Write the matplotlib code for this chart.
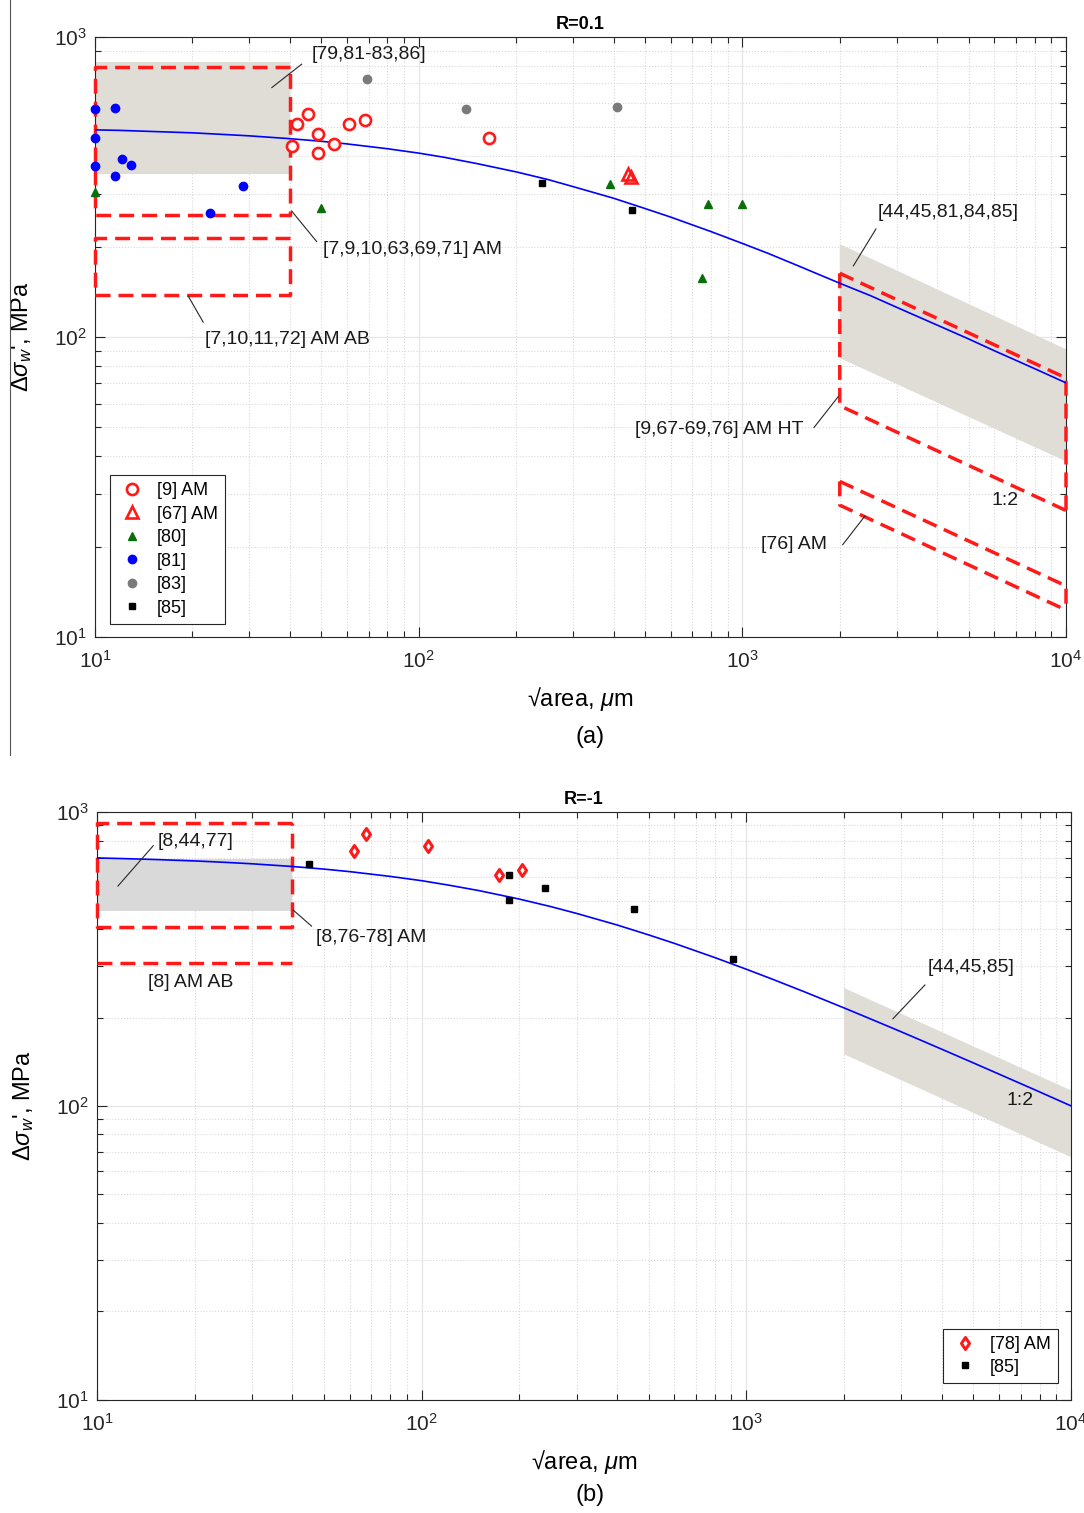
import matplotlib
matplotlib.use("Agg")
import matplotlib.pyplot as plt
from matplotlib.lines import Line2D
from matplotlib.markers import MarkerStyle
from matplotlib.patches import Polygon

plt.rcParams['font.family'] = ['Liberation Sans', 'DejaVu Sans']
plt.rcParams['mathtext.fontset'] = 'custom'
plt.rcParams['mathtext.rm'] = 'Liberation Sans'
plt.rcParams['mathtext.it'] = 'Liberation Sans:italic'

# ---------------- data, panel (a) R=0.1 ----------------
curve_x = [10, 12, 15, 20, 25, 30, 40, 50, 60, 80, 100, 120, 150, 200, 250, 300, 400, 500,
           600, 800, 1000, 1200, 1500, 2000, 2500, 3000, 4000, 5000, 6000, 8000, 10000]
curve_a_y = [490, 488, 484, 479, 473, 468, 458, 449, 440, 424, 410, 397, 379, 355, 335, 317, 290, 268,
             251, 224.5, 205, 190, 172, 151, 137, 125.5, 109.5, 98.5, 90, 78.4, 70.3]

ref9_x = [40.5, 42.2, 45.6, 48.8, 48.8, 54.7, 61.0, 68.4, 164.9]
ref9_y = [433, 512, 555, 476, 411, 438, 512, 529, 462]
ref67_x = [442, 452]
ref67_y = [349, 341]
ref80_x = [10, 50, 390, 783, 997, 750]
ref80_y = [304, 268, 323, 277, 277, 157]
ref81_x = [10, 11.5, 10, 10, 12.1, 12.9, 11.5, 28.7, 22.7]
ref81_y = [574, 581, 461, 372, 393, 375, 345, 318, 258]
ref83_x = [69.1, 139.7, 409]
ref83_y = [726, 574, 584]
ref85a_x = [240, 455]
ref85a_y = [325, 265]

# ---------------- data, panel (b) R=-1 ----------------
curve_b_y = [698, 694.5, 689.6, 681.8, 674, 666.7, 652.7, 639.5, 627, 604, 584, 565, 540.5, 505.6, 476.7,
             452, 412.8, 382, 357.5, 319.8, 291.9, 270.3, 245.3, 215.6, 194.6, 178.8, 156, 140.2, 128.4,
             111.7, 100.1]

ref78_x = [61.9, 67.2, 104.4, 173.4, 204]
ref78_y = [737, 839, 764, 610, 635]
ref85b_x = [44.9, 185.3, 185.3, 239, 451, 910]
ref85b_y = [666, 609, 501, 551, 468, 316]

GRAY_A = '#e0ddd7'
GRAY_B = '#d9d9d9'
RED = '#ff1a1a'
DASH = (4.3, 2.3)

fig = plt.figure(figsize=(10.84, 15.13), dpi=100)


def style_axes(ax, title):
    ax.set_xscale('log')
    ax.set_yscale('log')
    ax.set_xlim(10, 1e4)
    ax.set_ylim(10, 1e3)
    ax.grid(True, which='major', color='#e6e6e6', lw=0.9, ls='-')
    ax.grid(True, which='minor', color='#d8d8d8', lw=0.8, ls=':')
    ax.set_axisbelow(True)
    ax.tick_params(which='both', direction='in', top=True, right=True, labelsize=15, colors='#262626')
    ax.tick_params(which='major', length=7, width=0.8)
    ax.tick_params(which='minor', length=4, width=0.8)
    ax.tick_params(axis='x', which='major', pad=9)
    ax.tick_params(axis='y', which='major', pad=6)
    for s in ax.spines.values():
        s.set_color('#262626')
        s.set_linewidth(0.8)
    ax.set_title(title, fontsize=13, fontweight='bold', pad=6)
    ax.set_xlabel('\u221aarea, $\\mu$m', fontsize=17, labelpad=10)
    ax.set_ylabel("$\\Delta\\sigma_w$', MPa", fontsize=17, labelpad=14)


def red_dash(ax, xs, ys):
    ax.plot(xs, ys, color=RED, lw=2.5, dashes=DASH, zorder=3, clip_on=False)


def note(ax, text, line, pos, ha='left'):
    ax.plot(line[0], line[1], color='#262626', lw=0.8, zorder=4)
    ax.text(pos[0], pos[1], text, fontsize=14, ha=ha, va='center', color='#1a1a1a', zorder=5)


# ================= panel (a) =================
ax = fig.add_axes([0.0876, 0.579, 0.8958, 0.3966])
style_axes(ax, 'R=0.1')

ax.fill_between([10, 40], 350, 825, color=GRAY_A, lw=0, zorder=1)
ax.add_patch(Polygon([[2000, 204], [10000, 91], [10000, 38.5], [2000, 85]], closed=True,
                     facecolor=GRAY_A, edgecolor='none', zorder=1))

red_dash(ax, [40, 10, 10, 40, 40], [794, 794, 255, 255, 794])
red_dash(ax, [40, 10, 10, 40, 40], [214, 214, 138, 138, 214])
red_dash(ax, [2000, 10000, 10000], [163, 73, 26.5])
red_dash(ax, [2000, 2000, 10000], [163, 59, 26.4])
red_dash(ax, [2000, 10000, 10000], [33, 14.8, 12.3])
red_dash(ax, [2000, 2000, 10000], [33, 27.5, 12.3])

ax.plot(curve_x, curve_a_y, color='#0000ff', lw=1.2, zorder=4)

ax.plot(ref9_x, ref9_y, 'o', ms=8, mfc='white', mec=RED, mew=1.9, zorder=6, clip_on=False, label='[9] AM')
ax.plot(ref67_x, ref67_y, '^', ms=8, mfc='none', mec=RED, mew=1.9, zorder=6, label='[67] AM')
ax.plot(ref80_x, ref80_y, '^', ms=6, color='#0a6e0a', zorder=6, clip_on=False, label='[80]')
ax.plot(ref81_x, ref81_y, 'o', ms=6, color='#0000ff', zorder=6, clip_on=False, label='[81]')
ax.plot(ref83_x, ref83_y, 'o', ms=6, color='#7a7a7a', zorder=6, label='[83]')
ax.plot(ref85a_x, ref85a_y, 's', ms=4.5, color='black', zorder=6, label='[85]')

note(ax, '[79,81-83,86]', ([35.2, 43.5], [678, 811]), (46.8, 871))
note(ax, '[7,9,10,63,69,71] AM', ([40.5, 48.4], [263, 208]), (50.6, 195))
note(ax, '[7,10,11,72] AM AB', ([19.4, 21.6], [137, 112]), (21.9, 97.7))
note(ax, '[44,45,81,84,85]', ([2203, 2587], [172.5, 229]), (2624, 259))
note(ax, '[9,67-69,76] AM HT', ([1665, 1977], [49.9, 63.2]), (1540, 49), ha='right')
note(ax, '[76] AM', ([2042, 2392], [20.3, 25.3]), (1825, 20.4), ha='right')
ax.text(6476, 28.6, '1:2', fontsize=14, ha='center', va='center', color='#1a1a1a')

leg = ax.legend(loc='lower left', bbox_to_anchor=(0.0155, 0.0217), borderaxespad=0,
                fontsize=13, numpoints=1, fancybox=False, framealpha=1,
                edgecolor='#262626', labelspacing=0.36, handlelength=1.6,
                handletextpad=0.6, borderpad=0.4)
leg.get_frame().set_linewidth(0.8)

# ================= panel (b) =================
bx = fig.add_axes([0.0895, 0.0747, 0.8985, 0.3886])
style_axes(bx, 'R=-1')

bx.fill_between([10, 40], 462, 690, color=GRAY_B, lw=0, zorder=1)
bx.add_patch(Polygon([[2000, 252], [10000, 113], [10000, 67], [2000, 150]], closed=True,
                     facecolor=GRAY_A, edgecolor='none', zorder=1))

red_dash(bx, [40, 10, 10, 40, 40], [920, 920, 407, 407, 920])
red_dash(bx, [10, 40], [306, 306])

bx.plot(curve_x, curve_b_y, color='#0000ff', lw=1.2, zorder=4)

dmark = MarkerStyle('d', joinstyle='round')
bx.plot(ref78_x, ref78_y, ls='none', marker=dmark, ms=6, mfc='white', mec=RED, mew=2.2, zorder=6, label='[78] AM')
bx.plot(ref85b_x, ref85b_y, 's', ms=4.5, color='black', zorder=6, label='[85]')

note(bx, '[8,44,77]', ([11.6, 14.9], [560, 768]), (15.4, 791))
note(bx, '[8,76-78] AM', ([40.2, 45.8], [464, 409]), (47.3, 373))
bx.text(19.5, 264, '[8] AM AB', fontsize=14, ha='center', va='center', color='#1a1a1a')
note(bx, '[44,45,85]', ([2828, 3548], [198, 258]), (3626, 295))
bx.text(6966, 104.8, '1:2', fontsize=14, ha='center', va='center', color='#1a1a1a')

leg2 = bx.legend(loc='lower right', bbox_to_anchor=(0.9867, 0.029), borderaxespad=0,
                 fontsize=13, numpoints=1, fancybox=False, framealpha=1,
                 edgecolor='#262626', labelspacing=0.3, handlelength=1.6,
                 handletextpad=0.6, borderpad=0.4)
leg2.get_frame().set_linewidth(0.8)

# captions and the stray frame line on the left
fig.text(0.544, 1 - 737 / 1513, '(a)', fontsize=17, ha='center', va='center')
fig.text(0.544, 1 - 1495 / 1513, '(b)', fontsize=17, ha='center', va='center')
fig.add_artist(Line2D([0.0092, 0.0092], [1.0, 1 - 755 / 1513], color='#555555', lw=0.8))

fig.savefig('out.png', dpi=100, facecolor='white')
